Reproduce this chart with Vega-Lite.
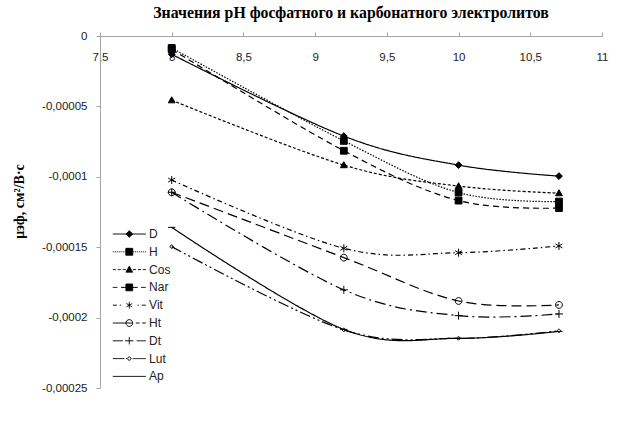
{
  "$schema": "https://vega.github.io/schema/vega-lite/v6.json",
  "autosize": "none",
  "width": 502,
  "height": 352,
  "padding": {"left": 100, "top": 36, "right": 23, "bottom": 33},
  "background": "white",
  "title": {
    "text": "Значения рН фосфатного и карбонатного электролитов",
    "font": "Liberation Serif",
    "fontSize": 15.8,
    "fontWeight": "bold",
    "color": "black",
    "anchor": "middle",
    "frame": "group",
    "offset": 8
  },
  "config": {
    "view": {"stroke": null},
    "axis": {
      "labelFont": "Liberation Sans",
      "labelFontSize": 11.5,
      "labelColor": "#222",
      "domainColor": "#a6a6a6",
      "tickColor": "#a6a6a6",
      "grid": false
    }
  },
  "data": {
    "values": [
      {"series": "D", "pH": 8, "mu": -0.000013},
      {"series": "D", "pH": 9.2, "mu": -0.0000711},
      {"series": "D", "pH": 10, "mu": -0.0000917},
      {"series": "D", "pH": 10.7, "mu": -0.0000995},
      {"series": "H", "pH": 8, "mu": -0.0000085},
      {"series": "H", "pH": 9.2, "mu": -0.0000745},
      {"series": "H", "pH": 10, "mu": -0.0001112},
      {"series": "H", "pH": 10.7, "mu": -0.0001176},
      {"series": "Cos", "pH": 8, "mu": -0.0000456},
      {"series": "Cos", "pH": 9.2, "mu": -0.0000917},
      {"series": "Cos", "pH": 10, "mu": -0.0001066},
      {"series": "Cos", "pH": 10.7, "mu": -0.0001116},
      {"series": "Nar", "pH": 8, "mu": -0.0000095},
      {"series": "Nar", "pH": 9.2, "mu": -0.0000815},
      {"series": "Nar", "pH": 10, "mu": -0.0001169},
      {"series": "Nar", "pH": 10.7, "mu": -0.0001222},
      {"series": "Vit", "pH": 8, "mu": -0.0001023},
      {"series": "Vit", "pH": 9.2, "mu": -0.0001508},
      {"series": "Vit", "pH": 10, "mu": -0.0001539},
      {"series": "Vit", "pH": 10.7, "mu": -0.0001491},
      {"series": "Ht", "pH": 8, "mu": -0.000111},
      {"series": "Ht", "pH": 9.2, "mu": -0.0001574},
      {"series": "Ht", "pH": 10, "mu": -0.0001882},
      {"series": "Ht", "pH": 10.7, "mu": -0.000191},
      {"series": "Dt", "pH": 8, "mu": -0.000111},
      {"series": "Dt", "pH": 9.2, "mu": -0.0001803},
      {"series": "Dt", "pH": 10, "mu": -0.0001986},
      {"series": "Dt", "pH": 10.7, "mu": -0.0001974},
      {"series": "Lut", "pH": 8, "mu": -0.0001496},
      {"series": "Lut", "pH": 9.2, "mu": -0.0002087},
      {"series": "Lut", "pH": 10, "mu": -0.0002147},
      {"series": "Lut", "pH": 10.7, "mu": -0.0002094},
      {"series": "Ap", "pH": 8, "mu": -0.0001359},
      {"series": "Ap", "pH": 9.2, "mu": -0.0002084},
      {"series": "Ap", "pH": 10, "mu": -0.0002147},
      {"series": "Ap", "pH": 10.7, "mu": -0.0002098}
    ]
  },
  "encoding": {
    "x": {
      "field": "pH",
      "type": "quantitative",
      "scale": {"domain": [7.5, 11], "nice": false, "zero": false},
      "axis": {
        "orient": "top",
        "title": null,
        "values": [7.5, 8, 8.5, 9, 9.5, 10, 10.5, 11],
        "labelExpr": "replace(format(datum.value, '.1~f'), '.', ',')",
        "tickSize": 4,
        "labelBaseline": "middle",
        "labelPadding": -25,
        "labelFlush": false,
        "labelOverlap": false
      }
    },
    "y": {
      "field": "mu",
      "type": "quantitative",
      "scale": {"domain": [-0.00025, 0], "nice": false, "zero": false},
      "axis": {
        "values": [0, -0.00005, -0.0001, -0.00015, -0.0002, -0.00025],
        "labelExpr": "datum.value == 0 ? '0' : '-' + replace(format(-datum.value, '.5~f'), '.', ',')",
        "tickSize": 4,
        "labelPadding": 9,
        "labelFlush": false,
        "labelOverlap": false,
        "title": "μэф, см²/В·с",
        "titleFont": "Liberation Serif",
        "titleFontSize": 14,
        "titleFontWeight": "bold",
        "titleColor": "black",
        "titleAngle": -90,
        "titleBaseline": "middle",
        "titleAlign": "center",
        "titleX": -81,
        "titleY": 165
      }
    }
  },
  "layer": [
    {
      "mark": {"type": "line", "interpolate": "cardinal", "strokeWidth": 1.2},
      "encoding": {
        "stroke": {
          "field": "series",
          "type": "nominal",
          "scale": {
            "domain": ["D", "H", "Cos", "Nar", "Vit", "Ht", "Dt", "Lut", "Ap"],
            "range": ["black", "black", "black", "black", "black", "black", "black", "black", "black"]
          },
          "legend": {
            "title": null,
            "orient": "none",
            "legendX": 20.3,
            "legendY": 189,
            "padding": 0,
            "symbolSize": 269,
            "symbolStrokeWidth": 1,
            "symbolDash": [1, 0],
            "symbolType": {"expr": "{'D': 'M-2.01,0H2.01M0,-0.41L0.41,0L0,0.41L-0.41,0Z', 'H': 'M-2.01,0h0.12M-1.77,0h0.12M-1.53,0h0.12M-1.29,0h0.12M-1.05,0h0.12M-0.8,0h0.12M-0.56,0h0.12M0.44,0h0.12M0.68,0h0.12M0.92,0h0.12M1.17,0h0.12M1.41,0h0.12M1.65,0h0.12M1.89,0h0.12M-0.42,-0.42H0.42V0.42H-0.42Z', 'Cos': 'M-2.01,0H-1.65M-1.41,0H-1.05M-0.8,0H-0.44M0.44,0H0.8M1.05,0H1.41M1.65,0H2.01M0,-0.41L0.41,0.31H-0.41Z', 'Nar': 'M-2.01,0H-1.45M-1.01,0H1.01M1.45,0H2.01M-0.41,-0.41H0.41V0.41H-0.41Z', 'Vit': 'M-2.01,0H-1.51M-1.17,0H-1.01M1.01,0H1.17M1.51,0H2.01M0,-0.41V0.41M-0.35,-0.2L0.35,0.2M-0.35,0.2L0.35,-0.2', 'Ht': 'M-2.01,0H0.44M0.8,0H1.25M1.57,0H2.01M-0.41,0A0.41,0.41,0,1,1,0.41,0A0.41,0.41,0,1,1,-0.41,0', 'Dt': 'M-2.01,0H-0.8M-0.51,0H0.51M0.9,0H2.01M0,-0.44V0.44', 'Lut': 'M-2.01,0H-0.6M-0.41,0H-0.29M0.41,0H2.01M-0.2,0A0.2,0.2,0,1,1,0.2,0A0.2,0.2,0,1,1,-0.2,0', 'Ap': 'M-2.01,0H2.01'}[datum.value]"},
            "symbolFillColor": {"expr": "indexof(['D','H','Cos','Nar'], datum.value) >= 0 ? 'black' : 'transparent'"},
            "labelOffset": 10.8,
            "labelFont": "Liberation Sans",
            "labelFontSize": 12,
            "labelColor": "#222",
            "rowPadding": 2.8
          }
        },
        "strokeDash": {
          "field": "series",
          "type": "nominal",
          "scale": {
            "range": [[1, 0], [3, 2], [1, 0], [11, 4, 2, 4], [1.5, 1.5], [10, 5], [11, 3, 2, 3, 2, 3], [6, 4], [5, 3, 1.5, 3]]
          },
          "legend": null
        }
      }
    },
    {
      "mark": {"type": "point", "size": 64, "stroke": "black", "strokeWidth": 1, "opacity": 1},
      "encoding": {
        "shape": {
          "field": "series",
          "type": "nominal",
          "scale": {
            "range": [
              "M-0.9,0H0.9",
              "M0,-0.85L0.85,0.65H-0.85Z",
              "M0,-0.85L0.85,0L0,0.85L-0.85,0Z",
              "M0,-1V1M-1,0H1",
              "M-0.85,-0.85H0.85V0.85H-0.85Z",
              "M-0.85,0A0.85,0.85,0,1,1,0.85,0A0.85,0.85,0,1,1,-0.85,0",
              "M-0.4,0A0.4,0.4,0,1,1,0.4,0A0.4,0.4,0,1,1,-0.4,0",
              "M-0.85,-0.85H0.85V0.85H-0.85Z",
              "M0,-1V1M-0.87,-0.5L0.87,0.5M-0.87,0.5L0.87,-0.5"
            ]
          },
          "legend": null
        },
        "fill": {
          "field": "series",
          "type": "nominal",
          "scale": {
            "range": ["transparent", "black", "black", "transparent", "black", "transparent", "transparent", "black", "transparent"]
          },
          "legend": null
        }
      }
    }
  ]
}
